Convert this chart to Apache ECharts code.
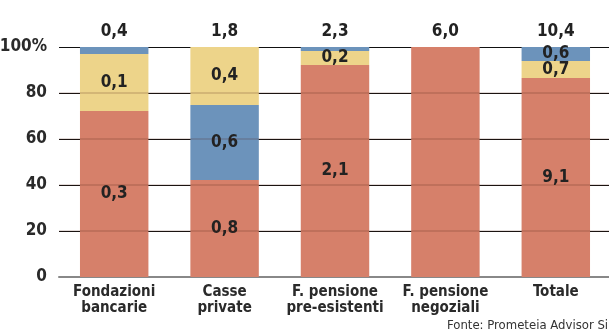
<!DOCTYPE html>
<html><head><meta charset="utf-8">
<script src="https://cdn.jsdelivr.net/npm/echarts@6/dist/echarts.min.js"></script>
<style>html,body{margin:0;padding:0;background:#fff}#c{width:609px;height:334px}</style>
</head><body><div id="c"></div>
<script>
var categories = ['Fondazioni\nbancarie', 'Casse\nprivate', 'F. pensione\npre-esistenti', 'F. pensione\nnegoziali', 'Totale'];
var totals = ['0,4', '1,8', '2,3', '6,0', '10,4'];
// share (%) of each segment
var redPct = [72.2, 42.2, 92.2, 100, 86.5];
var bluePctMid = [0, 32.6, 0, 0, 0];
var yellowPct = [24.8, 25.2, 6.1, 0, 7.4];
var bluePctTop = [3.0, 0, 1.7, 0, 6.1];
// labels (absolute values)
var redLbl = ['0,3', '0,8', '2,1', '', '9,1'];
var blueMidLbl = ['', '0,6', '', '', ''];
var yellowLbl = ['0,1', '0,4', '0,2', '', '0,7'];
var blueTopLbl = ['', '', '', '', '0,6'];
var yTicks = [0, 20, 40, 60, 80, 100];

var FONT = '"DejaVu Sans Condensed", "Liberation Sans Narrow", sans-serif';
var RED = '#D6806A', YEL = '#EDD48A', BLU = '#6C93BB';

function seg(name, vals, lbls, color, extra) {
  return Object.assign({
    name: name, type: 'bar', stack: 's', barWidth: '62%',
    data: vals, itemStyle: { color: color },
    label: { show: true, position: 'inside', fontFamily: FONT, fontWeight: 'bold', fontSize: 17, color: '#222',
      formatter: function (p) { return lbls[p.dataIndex]; } }
  }, extra || {});
}

var chart = echarts.init(document.getElementById('c'), null, { renderer: 'canvas' });
chart.setOption({
  animation: false,
  grid: { left: 59, right: -2, top: 47, bottom: 57, containLabel: false, outerBoundsMode: 'none' },
  xAxis: {
    type: 'category', data: categories,
    axisLine: { show: true, lineStyle: { color: '#888', width: 2 } },
    axisTick: { show: false },
    axisLabel: { interval: 0, margin: 7, fontFamily: FONT, fontWeight: 'bold', fontSize: 15, lineHeight: 16, color: '#2a2a2a' }
  },
  yAxis: {
    type: 'value', min: 0, max: 100, interval: 20,
    axisLine: { show: false }, axisTick: { show: false },
    splitLine: { lineStyle: { color: '#111', width: 1 } },
    axisLabel: { margin: 12, fontFamily: FONT, fontWeight: 'bold', fontSize: 17, color: '#2a2a2a',
      formatter: function (v) { return v === 100 ? '100%' : String(v); } }
  },
  series: [
    seg('red', redPct, redLbl, RED),
    seg('blueMid', bluePctMid, blueMidLbl, BLU),
    seg('yellow', yellowPct, yellowLbl, YEL),
    seg('blueTop', bluePctTop, blueTopLbl, BLU),
    {
      name: 'tot', type: 'bar', stack: 's', barWidth: '62%',
      data: totals.map(function () { return 0; }),
      label: { show: true, position: 'top', distance: 7, fontFamily: FONT, fontWeight: 'bold', fontSize: 17, color: '#222',
        formatter: function (p) { return totals[p.dataIndex]; } }
    },
    {
      name: 'overlay', type: 'line', data: [], z: 10, silent: true,
      markLine: { silent: true, symbol: 'none', label: { show: false },
        lineStyle: { color: 'rgba(80,30,20,0.22)', type: 'solid', width: 1.5 },
        data: yTicks.slice(1, 5).map(function (v) { return { yAxis: v }; }) }
    }
  ],
  graphic: [{
    type: 'text', left: 447, top: 319,
    style: { text: 'Fonte: Prometeia Advisor Sim', fontFamily: FONT, fontSize: 13, fill: '#333' }
  }]
});
</script></body></html>
